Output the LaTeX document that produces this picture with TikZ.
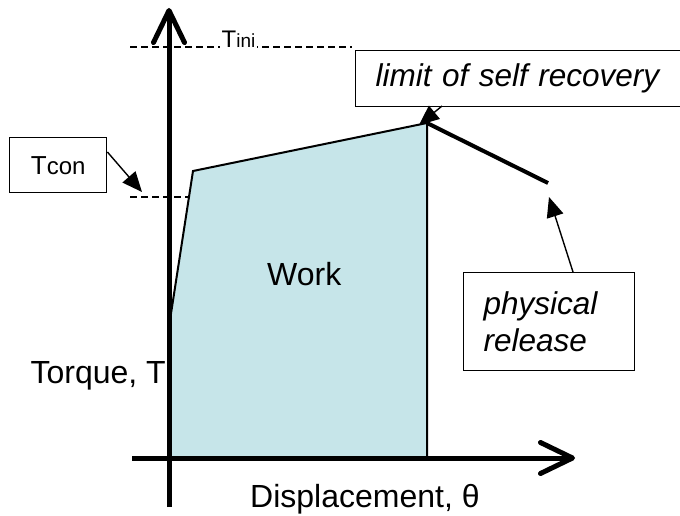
\documentclass[tikz,border=0pt]{standalone}
\usepackage{fontspec}
\setmainfont{Liberation Sans}
\usetikzlibrary{arrows.meta}
\definecolor{workfill}{RGB}{198,229,233}
\tikzset{
  axisline/.style={line width=5pt,-{Straight Barb[length=32pt,width=31pt,round]}},
  levelline/.style={line width=1.2pt,dash pattern=on 7pt off 4pt},
  curveline/.style={line width=2pt,line join=miter},
  callout/.style={draw,line width=1.4pt,fill=white},
  pointer/.style={line width=1.4pt,-{Triangle[length=20pt,width=17pt]}},
  plain/.style={inner sep=0pt,font=\fontsize{32}{37}\selectfont},
  slanted/.style={font=\fontsize{31.5}{37}\selectfont\itshape}
}
\begin{document}
\begin{tikzpicture}[x=1pt,y=-1pt]
\useasboundingbox (0,0) rectangle (680,516);
\clip (0,0) rectangle (680,516);

% work area under the torque curve
\fill[workfill] (170,458) -- (170,320) -- (193,171) -- (427,123) -- (427,458) -- cycle;

% reference torque levels
\draw[levelline] (130,47) -- (352,47);
\draw[levelline] (130,197) -- (189,197);
\node[fill=white,inner sep=1.5pt,anchor=base west] (tini) at (220,48)
  {\fontsize{24}{28}\selectfont T\fontsize{19}{22}\selectfont ini};

% axes
\coordinate (yend) at (169,8);
\coordinate (xend) at (575,458);
\draw[axisline] (169,507) -- (yend);
\draw[axisline] (132,458) -- (xend);

% torque curve
\coordinate (c0) at (170,320);
\coordinate (c1) at (193,171);
\coordinate (peak) at (427,123);
\coordinate (base) at (427,458);
\coordinate (rel) at (548,183);
\draw[curveline] (c0) -- (c1) -- (peak) -- (base);
\draw[line width=4pt] (peak) -- (rel);

% labels
\node[plain,anchor=base west] (work) at (267,285) {Work};
\node[plain,anchor=base east] (torque) at (166,383) {Torque, T};
\node[plain,anchor=base west] (disp) at (250,507) {Displacement, θ};

% callouts
\node[callout,anchor=north west,minimum width=97pt,minimum height=55pt,inner sep=0pt] (tcon) at (9,137)
  {\fontsize{26}{30}\selectfont T\fontsize{24}{28}\selectfont con};
\coordinate (tcontip) at (142,192);
\draw[pointer] (tcon.east |- 0,152) -- (tcontip);

\node[callout,slanted,anchor=north west,text width=305pt,inner xsep=20pt,minimum height=56pt,align=left] (limit) at (355,50)
  {limit of self recovery};
\coordinate (limittip) at (419,125);
\draw[pointer] (442,106) -- (limittip);

\node[callout,slanted,anchor=north west,text width=131pt,inner xsep=20pt,minimum height=98pt,align=left] (release) at (463,272)
  {physical\\release};
\coordinate (reltip) at (549,197);
\draw[pointer] (release.north -| 573,0) -- (reltip);
\end{tikzpicture}
\end{document}
